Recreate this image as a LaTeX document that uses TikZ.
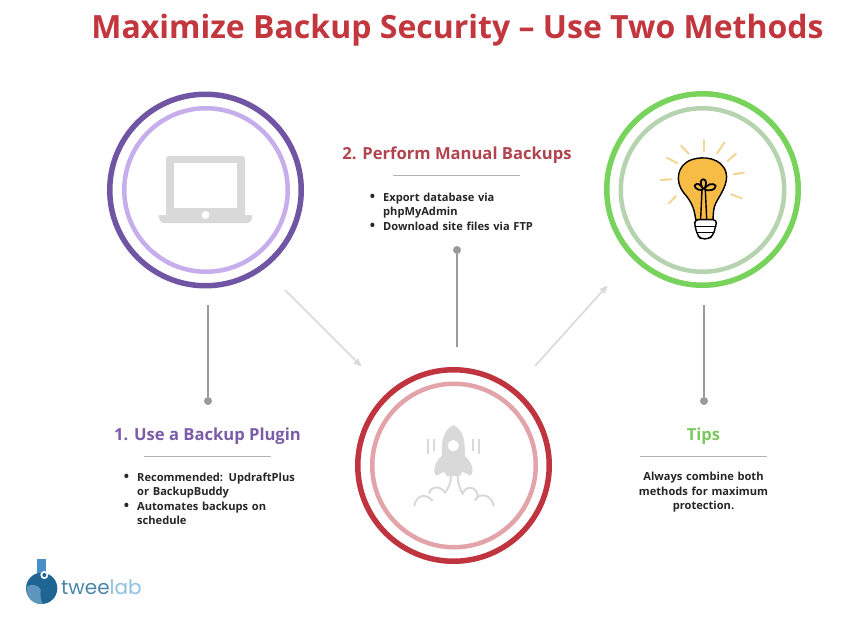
\documentclass[tikz,border=0pt]{standalone}
\usepackage{fontspec}
\setmainfont{Open Sans}
\newfontfamily\logofont{Poppins}
\usetikzlibrary{arrows,positioning}
\definecolor{plumDark}{HTML}{6F55A3}
\definecolor{plumLight}{HTML}{C6AEEC}
\definecolor{leafDark}{HTML}{78D35C}
\definecolor{leafLight}{HTML}{B6D3AF}
\definecolor{roseDark}{HTML}{C0343F}
\definecolor{roseLight}{HTML}{E2A4A9}
\definecolor{titleRed}{HTML}{C2363E}
\definecolor{headPlum}{HTML}{7A5CA8}
\definecolor{headRose}{HTML}{B0444F}
\definecolor{headLeaf}{HTML}{7CC860}
\definecolor{iconGrey}{HTML}{D9D9D9}
\definecolor{stemGrey}{HTML}{9A9A9A}
\definecolor{bulbGold}{HTML}{F6BC45}
\definecolor{rayGold}{HTML}{F3D596}
\definecolor{flaskDark}{HTML}{1F6594}
\definecolor{flaskMid}{HTML}{5F95BD}
\definecolor{flaskNeck}{HTML}{4A90C8}
\definecolor{labBlue}{HTML}{8FC1E0}
\tikzset{
	ringOut/.style={circle,draw=#1,line width=5.5pt,minimum size=191.5pt,inner sep=0pt},
	ringIn/.style={circle,draw=#1,line width=4.5pt,minimum size=163.5pt,inner sep=0pt},
	heading/.style={font=\fontsize{16.6}{19}\selectfont\bfseries,text=#1,inner sep=0pt},
	rulebar/.style={fill=black!30,minimum width=127pt,minimum height=.8pt,inner sep=0pt},
	stemdot/.style={circle,fill=stemGrey,minimum size=8pt,inner sep=0pt},
	stem/.style={draw=stemGrey,line width=2pt},
	flow/.style={->,draw=iconGrey,line width=1.6pt},
	body/.style={font=\fontsize{11.1}{14.6}\selectfont\bfseries,text=black!85,inner sep=0pt,text width=#1},
	ray/.style={draw=rayGold,line width=2pt,line cap=round},
	ink/.style={draw=black,line width=1.4pt,line join=round,line cap=round}
}
\newcommand{\pointlist}[1]{\begin{minipage}[t]{\linewidth}\setlength{\leftmargini}{14pt}\setlength{\labelsep}{8pt}%
	\renewcommand{\labelitemi}{{\fontsize{14}{14}\selectfont\textbullet}}%
	\begin{itemize}\setlength{\topsep}{0pt}\setlength{\partopsep}{0pt}\setlength{\itemsep}{0pt}\setlength{\parsep}{0pt}\setlength{\parskip}{0pt}\vspace{-\baselineskip}#1\end{itemize}\end{minipage}}
\begin{document}
\begin{tikzpicture}[x=1pt,y=-1pt,>=stealth',node distance=10pt]
	\useasboundingbox (0,0) rectangle (863,627);
	\fill[white] (0,0) rectangle (863,627);

	\node[font=\fontsize{32}{38}\selectfont\bfseries,text=titleRed,inner sep=0pt] (title) at (457.5,30) {Maximize Backup Security -- Use Two Methods};

	% rings
	\node[ringOut=plumDark] (plugin) at (205.5,190) {};
	\node[ringIn=plumLight] (pluginIn) at (206,190) {};
	\node[ringOut=roseDark] (manual) at (453.5,465.5) {};
	\node[ringIn=roseLight] (manualIn) at (454,465.5) {};
	\node[ringOut=leafDark] (tips) at (702.5,189.5) {};
	\node[ringIn=leafLight] (tipsIn) at (702.5,190) {};

	% stems
	\node[stemdot] (pluginDot) at (208,401) {};
	\coordinate (pluginTop) at (208,305);
	\node[stemdot] (manualDot) at (457,250) {};
	\coordinate (manualEnd) at (457,347);
	\node[stemdot] (tipsDot) at (704,401) {};
	\coordinate (tipsTop) at (704,305);
	\path
	(pluginTop) edge[stem] (pluginDot)
	(manualDot) edge[stem] (manualEnd)
	(tipsTop) edge[stem] (tipsDot)
	;

	% grey arrows
	\coordinate (flowA) at (285,290);
	\coordinate (flowB) at (361,366);
	\coordinate (flowC) at (535,366);
	\coordinate (flowD) at (607,286);
	\path
	(flowA) edge[flow] (flowB)
	(flowC) edge[flow] (flowD)
	;

	% texts
	\node[heading=headPlum] (pluginHead) at (207.5,436) {1. Use a Backup Plugin};
	\node[rulebar] (pluginRule) at (207,456) {};
	\node[body=180pt,anchor=north west] (pluginText) at (123,487) {\pointlist{\item Recommended: UpdraftPlus\\or BackupBuddy \item Automates backups on\\schedule}};
	\node[heading=headRose] (manualHead) at (457,155) {2. Perform Manual Backups};
	\node[rulebar] (manualRule) at (456,175) {};
	\node[body=190pt,anchor=north west] (manualText) at (369,207) {\pointlist{\item Export database via\\phpMyAdmin \item Download site files via FTP}};
	\node[heading=headLeaf] (tipsHead) at (703.5,436) {Tips};
	\node[rulebar] (tipsRule) at (703.5,456) {};
	\node[body=150pt,align=center,anchor=north] (tipsText) at (703.5,472) {Always combine both\\methods for maximum\\protection.};

	% laptop
	\fill[iconGrey,rounded corners=3pt] (166,156) rectangle (245,218);
	\fill[white] (174,163) rectangle (237,208);
	\fill[iconGrey,rounded corners=2pt] (158,215) -- (253,215) -- (250,223) -- (161,223) -- cycle;
	\fill[white] (205.5,215) circle (4);

	% bulb
	\begin{scope}[shift={(595,85)},scale=1/3]
		\foreach \xa/\ya/\xb/\yb in {326/165/326/198,258/182/282/207,388/172/366/205,216/218/247/235,423/206/398/228,197/285/228/283,447/263/415/268,243/333/222/355,408/328/440/340}
			\draw[ray] (\xa,\ya) -- (\xb,\yb);
		\draw[ink,fill=bulbGold] (302,404) .. controls (298,365) and (285,345) .. (265,322) .. controls (240,290) and (245,240) .. (290,224) .. controls (325,212) and (380,218) .. (393,262) .. controls (402,295) and (375,330) .. (362,355) .. controls (355,370) and (355,385) .. (354,404) -- cycle;
		\draw[ink] (317,400) -- (321,315) (335,400) -- (331,315);
		\draw[ink,line width=1.8pt] (321,315) .. controls (305,318) and (290,300) .. (305,297) .. controls (315,295) and (320,305) .. (325,312) .. controls (310,290) and (320,282) .. (326,283) .. controls (335,284) and (335,300) .. (328,312) .. controls (335,298) and (355,292) .. (362,302) .. controls (362,315) and (345,318) .. (331,315);
		\draw[ink,fill=white,rounded corners=4pt] (298,404) -- (366,404) -- (362,424) -- (354,452) -- (340,462) -- (318,462) -- (308,452) -- (300,424) -- cycle;
		\draw[ink] (300,424) -- (362,424) (306,442) -- (356,442);
	\end{scope}

	% rocket
	\begin{scope}[shift={(345,360)},scale=1/3]
		\fill[iconGrey] (325,195) .. controls (345,205) and (358,225) .. (359,260) -- (360,288) .. controls (375,300) and (385,320) .. (382,338) -- (376,347) -- (352,335) -- (345,348) -- (305,348) -- (298,335) -- (274,347) -- (268,338) .. controls (266,320) and (275,300) .. (290,288) -- (291,260) .. controls (292,225) and (305,205) .. cycle;
		\fill[white] (325,257) circle (17);
		\draw[iconGrey,line width=2pt] (248,238) -- (248,282) (266,238) -- (266,272) (385,238) -- (385,272) (402,238) -- (402,282);
		\draw[iconGrey,line width=2pt,line cap=round] (318,345) .. controls (318,370) and (310,385) .. (300,398) (338,345) .. controls (338,370) and (345,385) .. (353,402)
		(208,437) .. controls (212,410) and (240,395) .. (262,422) (253,400) .. controls (255,378) and (285,375) .. (300,398)
		(353,402) .. controls (358,378) and (395,375) .. (398,408) (390,420) .. controls (405,395) and (440,405) .. (446,437);
	\end{scope}

	% logo
	\begin{scope}[shift={(10,550)},scale=1/3]
		\fill[flaskNeck] (82,28) rectangle (108,75);
		\fill[flaskDark] (95,115) circle (47);
		\fill[flaskMid] (50,110) .. controls (65,100) and (85,105) .. (92,118) .. controls (90,135) and (92,150) .. (98,162) .. controls (75,165) and (45,145) .. cycle;
		\fill[white] (103,75) circle (12);
		\fill[flaskDark] (103,75) circle (6);
	\end{scope}
	\node[font=\logofont\fontsize{20}{24}\selectfont,inner sep=0pt,anchor=west] (logoText) at (61,587) {\textcolor{flaskDark!80}{twee}\textcolor{labBlue}{lab}};
\end{tikzpicture}
\end{document}
